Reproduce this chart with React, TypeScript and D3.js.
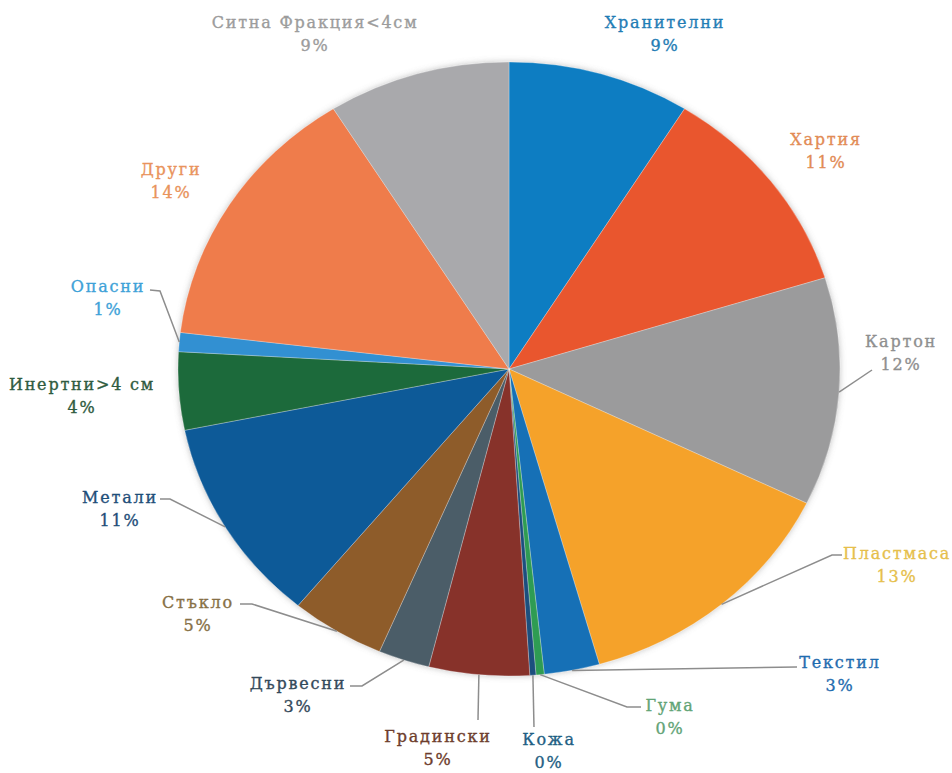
import { useEffect, useRef } from "react";
import * as d3 from "d3";

// waste composition, share in %, clockwise from 12 o'clock
const categories = [
  "Хранителни",
  "Хартия",
  "Картон",
  "Пластмаса",
  "Текстил",
  "Гума",
  "Кожа",
  "Градински",
  "Дървесни",
  "Стъкло",
  "Метали",
  "Инертни>4 см",
  "Опасни",
  "Други",
  "Ситна Фракция<4см",
];
const shares = [8.9, 11.3, 12.0, 13.4, 2.7, 0.4, 0.3, 4.9, 2.5, 4.6, 10.8, 4.1, 1.0, 14.2, 8.9];

const sliceColors = [
  "#0b7dc2", "#e9572f", "#9b9b9c", "#f5a22b", "#1570b6", "#2f9c52", "#1d4f7e", "#87302a",
  "#4b5d68", "#8e5b2b", "#0e5a98", "#1e6a3b", "#3190d2", "#ef7b4b", "#a9a9ac",
];
const labelColors = [
  "#1f7db5", "#e28b55", "#8f8f8f", "#e6bf4c", "#1f6caf", "#62a476", "#1f5f84", "#6e3d2c",
  "#34495a", "#877045", "#1f4e79", "#2f5b40", "#3ea2d8", "#e9935c", "#9c9c9c",
];

// label placement: name baseline, optional leader points (last point joins the slice edge)
const labelLayout: { x: number; y: number; leader?: [number, number][] }[] = [
  { x: 665, y: 28 },
  { x: 826, y: 145 },
  { x: 901, y: 347, leader: [[872, 370]] },
  { x: 897, y: 559, leader: [[842, 555], [832, 555]] },
  { x: 840, y: 668, leader: [[797, 667]] },
  { x: 670, y: 711, leader: [[641, 707], [627, 707]] },
  { x: 549, y: 745, leader: [[534, 727]] },
  { x: 438, y: 742, leader: [[478, 720]] },
  { x: 298, y: 689, leader: [[350, 686], [362, 686]] },
  { x: 198, y: 608, leader: [[240, 604], [252, 604]] },
  { x: 120, y: 503, leader: [[160, 499], [170, 499]] },
  { x: 82, y: 390 },
  { x: 108, y: 292, leader: [[150, 290], [160, 291]] },
  { x: 171, y: 175 },
  { x: 315, y: 28 },
];

const W = 952;
const H = 773;
const cx = 509;
const cy = 369;
const rx = 331;
const ry = 307;

export default function App() {
  const svgRef = useRef<SVGSVGElement>(null);

  useEffect(() => {
    if (!svgRef.current) return;
    const svg = d3.select(svgRef.current);
    svg.selectAll("*").remove();

    const data = categories.map((name, i) => ({ name, value: shares[i], i }));
    const total = d3.sum(shares);

    const pie = d3
      .pie<{ name: string; value: number; i: number }>()
      .sort(null)
      .value((d) => d.value);
    const arcs = pie(data);

    const arc = d3
      .arc<d3.PieArcDatum<{ name: string; value: number; i: number }>>()
      .innerRadius(0)
      .outerRadius(ry);

    const defs = svg.append("defs");
    const f = defs
      .append("filter")
      .attr("id", "shadow")
      .attr("x", "-10%")
      .attr("y", "-10%")
      .attr("width", "120%")
      .attr("height", "120%");
    f.append("feDropShadow")
      .attr("dx", 0)
      .attr("dy", 0)
      .attr("stdDeviation", 3)
      .attr("flood-color", "#777")
      .attr("flood-opacity", 0.45);

    // pie is slightly wider than tall in the reference
    const g = svg
      .append("g")
      .attr("transform", `translate(${cx},${cy}) scale(${rx / ry},1)`)
      .attr("filter", "url(#shadow)");

    g.selectAll("path")
      .data(arcs)
      .enter()
      .append("path")
      .attr("d", arc)
      .attr("fill", (d) => sliceColors[d.data.i])
      .attr("stroke", "rgba(255,255,255,0.35)")
      .attr("stroke-width", 0.8)
      .attr("vector-effect", "non-scaling-stroke");

    // point on the pie edge at a slice's middle angle
    const edge = (a: number): [number, number] => [cx + rx * Math.sin(a), cy - ry * Math.cos(a)];

    const line = d3.line();
    const leaders = svg.append("g");
    arcs.forEach((d) => {
      const lay = labelLayout[d.data.i];
      if (!lay.leader) return;
      const mid = (d.startAngle + d.endAngle) / 2;
      const pts = [...lay.leader, edge(mid)];
      leaders
        .append("path")
        .attr("d", line(pts))
        .attr("fill", "none")
        .attr("stroke", "#8d8d8d")
        .attr("stroke-width", 1.5);
    });

    const labels = svg
      .append("g")
      .attr("font-family", "'DejaVu Serif', 'Liberation Serif', serif")
      .attr("font-size", 16)
      .attr("letter-spacing", 1.8)
      .attr("text-anchor", "middle");

    arcs.forEach((d) => {
      const lay = labelLayout[d.data.i];
      const c = labelColors[d.data.i];
      const t = labels
        .append("text")
        .attr("fill", c)
        .attr("stroke", c)
        .attr("stroke-width", 0.35);
      t.append("tspan").attr("x", lay.x).attr("y", lay.y).text(d.data.name);
      t.append("tspan")
        .attr("x", lay.x)
        .attr("y", lay.y + 23)
        .text(`${Math.round((d.data.value / total) * 100)}%`);
    });
  }, []);

  return (
    <svg
      ref={svgRef}
      width={W}
      height={H}
      style={{ position: "absolute", left: 0, top: 0, background: "#fff" }}
    />
  );
}
